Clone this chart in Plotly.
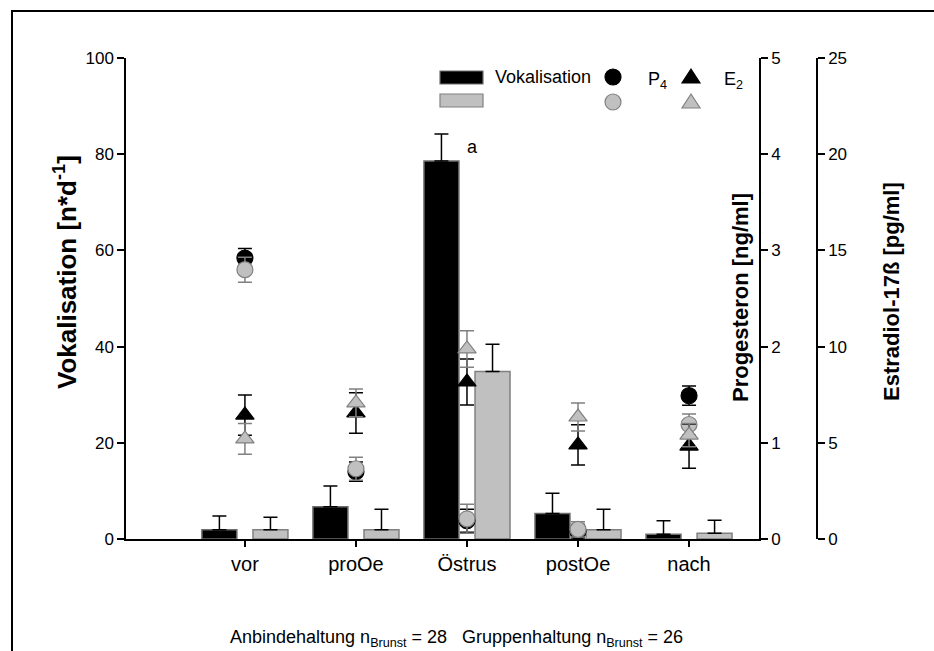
import plotly.graph_objects as go

# Zyklusphasen
categories = ["vor", "proOe", "Östrus", "postOe", "nach"]

# Vokalisation [n*d^-1]: Anbindehaltung (schwarz) / Gruppenhaltung (grau)
voc_anb = [1.9, 6.7, 78.6, 5.3, 1.0]
voc_anb_err = [2.9, 4.3, 5.6, 4.2, 2.8]
voc_grp = [1.9, 1.9, 34.8, 1.9, 1.2]
voc_grp_err = [2.6, 4.3, 5.7, 4.3, 2.7]

# Progesteron [ng/ml]
p4_anb = [2.92, 0.70, 0.19, 0.08, 1.49]
p4_anb_err = [0.10, 0.10, 0.12, 0.07, 0.10]
p4_grp = [2.80, 0.73, 0.21, 0.10, 1.19]
p4_grp_err = [0.13, 0.12, 0.15, 0.08, 0.11]

# Estradiol-17ß [pg/ml]
e2_anb = [6.44, 6.55, 8.16, 4.89, 4.83]
e2_anb_err = [1.05, 1.05, 1.2, 1.05, 1.15]
e2_grp = [5.2, 7.07, 9.88, 6.34, 5.4]
e2_grp_err = [0.8, 0.72, 0.95, 0.73, 0.6]

W, H = 934, 651
L, T, B, R = 126, 58, 112, 0
PW, PH = W - L - R, H - T - B
FONT = "Liberation Sans, Arial, sans-serif"
BLACK, GREY, GREY_LINE = "#000000", "#c0c0c0", "#808080"


def px(x):
    return (x - L) / PW


def py(y):
    return (H - B - y) / PH


xs = list(range(len(categories)))
bar_w = 0.315
bar_shift = 0.23

fig = go.Figure()

fig.add_trace(go.Bar(
    x=xs, y=voc_anb, width=bar_w, offset=-bar_shift - bar_w / 2,
    marker=dict(color=BLACK, line=dict(color="#6e6e6e", width=1.5)),
    error_y=dict(type="data", array=voc_anb_err, arrayminus=[0] * 5, symmetric=False,
                 color=BLACK, thickness=1.5, width=7),
    showlegend=False,
))
fig.add_trace(go.Bar(
    x=xs, y=voc_grp, width=bar_w, offset=bar_shift - bar_w / 2,
    marker=dict(color=GREY, line=dict(color=GREY_LINE, width=1.5)),
    error_y=dict(type="data", array=voc_grp_err, arrayminus=[0] * 5, symmetric=False,
                 color=BLACK, thickness=1.5, width=7),
    showlegend=False,
))


def marker_trace(vals, errs, axis, symbol, fill, edge, ecol):
    return go.Scatter(
        x=xs, y=vals, yaxis=axis, mode="markers",
        marker=dict(symbol=symbol, size=16, color=fill, line=dict(color=edge, width=1.2)),
        error_y=dict(type="data", array=errs, color=ecol, thickness=1.5, width=7),
        showlegend=False,
    )


fig.add_trace(marker_trace(p4_anb, p4_anb_err, "y2", "circle", BLACK, BLACK, BLACK))
fig.add_trace(marker_trace(p4_grp, p4_grp_err, "y2", "circle", GREY, GREY_LINE, GREY_LINE))
fig.add_trace(marker_trace(e2_anb, e2_anb_err, "y3", "triangle-up", BLACK, BLACK, BLACK))
fig.add_trace(marker_trace(e2_grp, e2_grp_err, "y3", "triangle-up", GREY, GREY_LINE, GREY_LINE))

x_end = px(759)
x_lo = -(245 - L) / 111.1
x_hi = 4 + (759 - 689) / 111.1

axis_common = dict(showline=True, linecolor=BLACK, linewidth=1.5, ticks="outside",
                   ticklen=7, tickwidth=1.5, tickcolor=BLACK, showgrid=False, zeroline=False,
                   tickfont=dict(family=FONT, size=17, color=BLACK))

fig.update_layout(
    width=W, height=H,
    margin=dict(l=L, r=R, t=T, b=B, pad=0),
    paper_bgcolor="white", plot_bgcolor="white",
    barmode="overlay",
    font=dict(family=FONT, color=BLACK),
    xaxis=dict(domain=[0, x_end], range=[x_lo, x_hi], tickvals=xs, ticktext=categories,
               showline=True, linecolor=BLACK, linewidth=1.5, ticks="outside", ticklen=6,
               tickwidth=1.5, tickcolor=BLACK, showgrid=False, zeroline=False,
               tickfont=dict(family=FONT, size=20, color=BLACK)),
    yaxis=dict(range=[0, 100], dtick=20, **axis_common),
    yaxis2=dict(range=[0, 5], dtick=1, overlaying="y", side="right", anchor="x", **axis_common),
    yaxis3=dict(range=[0, 25], dtick=5, overlaying="y", side="right", anchor="free",
                position=px(817), **axis_common),
)


def label(x, y, text, size, angle=0, xanchor="center", yanchor="middle"):
    return dict(x=px(x), y=py(y), xref="paper", yref="paper", text=text, textangle=angle,
                xanchor=xanchor, yanchor=yanchor, showarrow=False,
                font=dict(family=FONT, size=size, color=BLACK))


ann = [
    # axis titles
    label(65, 272, "<b>Vokalisation [n*d<sup>-1</sup>]</b>", 26, -90),
    label(740, 298, "<b>Progesteron [ng/ml]</b>", 22, -90),
    label(891, 292, "<b>Estradiol-17ß [pg/ml]</b>", 22, -90),
    # legend texts
    label(493, 77, "Vokalisation", 18, xanchor="left"),
    label(646, 80, "P<sub>4</sub>", 18, xanchor="left"),
    label(722, 80, "E<sub>2</sub>", 18, xanchor="left"),
    # group sizes
    label(456, 638, "Anbindehaltung n<sub>Brunst</sub> = 28   Gruppenhaltung n<sub>Brunst</sub> = 26", 18),
]
# significance letter next to the Östrus bar
ann.append(dict(x=2 + 6 / 111.1, y=81.5, xref="x", yref="y", text="a", showarrow=False,
                xanchor="center", yanchor="middle",
                font=dict(family=FONT, size=18, color=BLACK)))
fig.update_layout(annotations=ann)

shapes = []
# outer frame (left and top edges)
shapes.append(dict(type="line", xref="paper", yref="paper", x0=px(12), x1=px(12),
                   y0=py(10), y1=py(651), line=dict(color=BLACK, width=2)))
shapes.append(dict(type="line", xref="paper", yref="paper", x0=px(11), x1=px(934),
                   y0=py(11), y1=py(11), line=dict(color=BLACK, width=2)))
# legend swatches
shapes.append(dict(type="rect", xref="paper", yref="paper", x0=px(440), x1=px(483),
                   y0=py(71), y1=py(84), fillcolor=BLACK, line=dict(color="#6e6e6e", width=1.2)))
shapes.append(dict(type="rect", xref="paper", yref="paper", x0=px(440), x1=px(483),
                   y0=py(94), y1=py(107), fillcolor=GREY, line=dict(color=GREY_LINE, width=1.2)))
for cy, fill, edge in [(77, BLACK, BLACK), (102, GREY, GREY_LINE)]:
    shapes.append(dict(type="circle", xref="paper", yref="paper", x0=px(605), x1=px(621),
                       y0=py(cy - 8), y1=py(cy + 8), fillcolor=fill, line=dict(color=edge, width=1.2)))
    x0, x1, xm = px(682), px(700), px(691)
    ytop, ybot = py(cy - 8), py(cy + 6)
    shapes.append(dict(type="path", xref="paper", yref="paper",
                       path=f"M {x0},{ybot} L {x1},{ybot} L {xm},{ytop} Z",
                       fillcolor=fill, line=dict(color=edge, width=1.2)))
fig.update_layout(shapes=shapes)

fig.write_html("out.html")
